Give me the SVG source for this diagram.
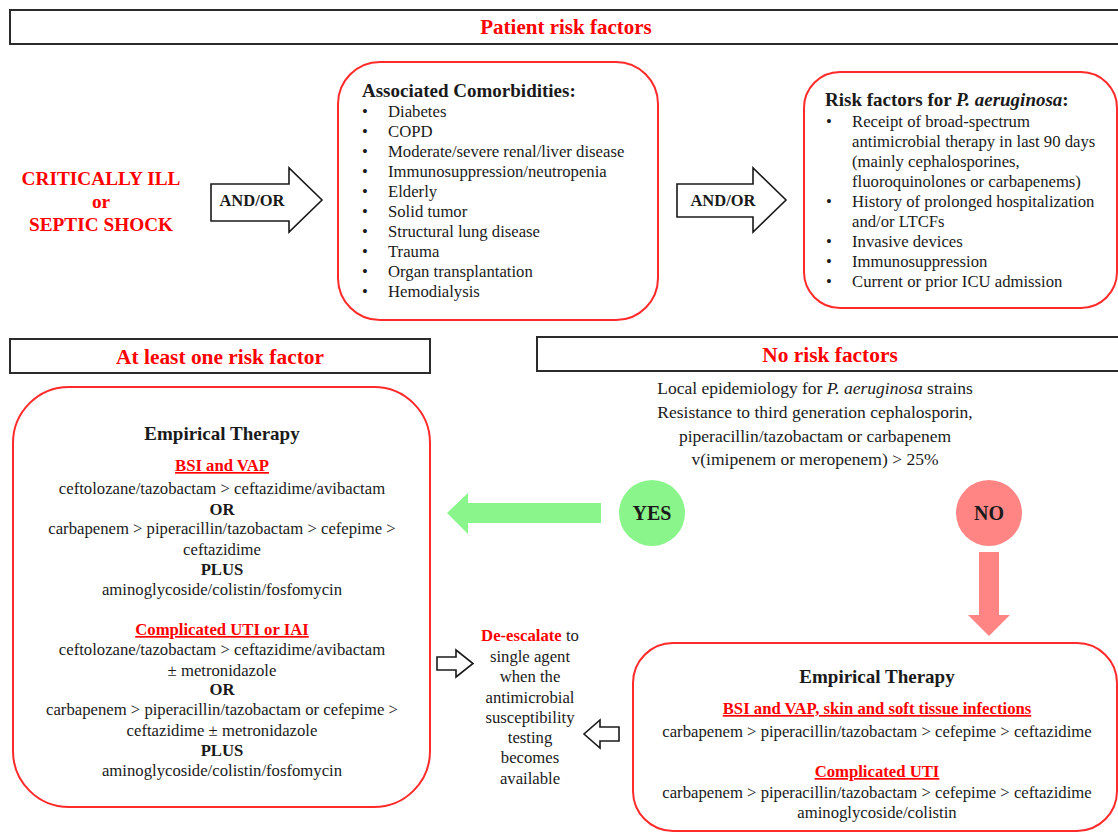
<svg xmlns="http://www.w3.org/2000/svg" width="1118" height="834" viewBox="0 0 1118 834">
<style>
text{font-family:"Liberation Serif","Times New Roman",serif;fill:#1a1a1a}
.t{font-size:16.7px}
.c{text-anchor:middle}
.b{font-weight:bold}
.r{fill:#ff0000}
.u{text-decoration:underline}
.h{font-size:19px;font-weight:bold}
.bar{fill:#fff;stroke:#2b2b2b;stroke-width:2}
.box{fill:#fff;stroke:#ff2a2a;stroke-width:2}
.hol{fill:#fff;stroke:#1a1a1a;stroke-width:1.6;stroke-linejoin:miter}
</style>
<rect width="1118" height="834" fill="#fff"/>

<g id="bar-patient">
<rect class="bar" x="10" y="10" width="1120" height="34"/>
<text class="c b r" x="566" y="34" font-size="21">Patient risk factors</text>
</g>

<g id="critically">
<text class="c b r" x="101" y="185" font-size="19.3">CRITICALLY ILL</text>
<text class="c b r" x="101" y="208" font-size="19.3">or</text>
<text class="c b r" x="101" y="231" font-size="19.3">SEPTIC SHOCK</text>
</g>

<g id="comorbidities">
<rect class="box" x="338" y="62" width="320" height="258" rx="42"/>
<text class="h" x="362" y="97">Associated Comorbidities:</text>
<g class="t">
<text x="362" y="117">•</text><text x="388" y="117">Diabetes</text>
<text x="362" y="137">•</text><text x="388" y="137">COPD</text>
<text x="362" y="157">•</text><text x="388" y="157">Moderate/severe renal/liver disease</text>
<text x="362" y="177">•</text><text x="388" y="177">Immunosuppression/neutropenia</text>
<text x="362" y="197">•</text><text x="388" y="197">Elderly</text>
<text x="362" y="217">•</text><text x="388" y="217">Solid tumor</text>
<text x="362" y="237">•</text><text x="388" y="237">Structural lung disease</text>
<text x="362" y="257">•</text><text x="388" y="257">Trauma</text>
<text x="362" y="277">•</text><text x="388" y="277">Organ transplantation</text>
<text x="362" y="297">•</text><text x="388" y="297">Hemodialysis</text>
</g>
</g>

<g id="risk-pa">
<rect class="box" x="804" y="72" width="313" height="236" rx="36"/>
<text class="h" x="825" y="106">Risk factors for <tspan font-style="italic">P. aeruginosa</tspan>:</text>
<g class="t">
<text x="826" y="127">•</text><text x="852" y="127">Receipt of broad-spectrum</text>
<text x="852" y="147">antimicrobial therapy in last 90 days</text>
<text x="852" y="167">(mainly cephalosporines,</text>
<text x="852" y="187">fluoroquinolones or carbapenems)</text>
<text x="826" y="207">•</text><text x="852" y="207">History of prolonged hospitalization</text>
<text x="852" y="227">and/or LTCFs</text>
<text x="826" y="247">•</text><text x="852" y="247">Invasive devices</text>
<text x="826" y="267">•</text><text x="852" y="267">Immunosuppression</text>
<text x="826" y="287">•</text><text x="852" y="287">Current or prior ICU admission</text>
</g>
</g>

<g id="bar-atleast">
<rect class="bar" x="10" y="339" width="420" height="34"/>
<text class="c b r" x="220" y="364" font-size="21.4">At least one risk factor</text>
</g>

<g id="bar-norisk">
<rect class="bar" x="537" y="337" width="600" height="34"/>
<text class="c b r" x="830" y="362" font-size="21.4">No risk factors</text>
</g>

<g id="local-epi">
<text class="c" x="815" y="394" font-size="17.5">Local epidemiology for <tspan font-style="italic">P. aeruginosa</tspan> strains</text>
<text class="c" x="815" y="418" font-size="17.5">Resistance to third generation cephalosporin,</text>
<text class="c" x="815" y="442" font-size="17.5">piperacillin/tazobactam or carbapenem</text>
<text class="c" x="815" y="465" font-size="17.5">v(imipenem or meropenem) &gt; 25%</text>
</g>

<g id="yes">
<circle cx="652" cy="513" r="33" fill="#8af58a"/>
<text class="c b" x="652" y="520" font-size="20">YES</text>
</g>

<g id="no">
<circle cx="989" cy="513" r="33" fill="#ff8585"/>
<text class="c b" x="989" y="520" font-size="20">NO</text>
</g>

<g id="therapy-left">
<rect class="box" x="13" y="387" width="417" height="420" rx="56"/>
<g class="t">
<text class="c h" x="222" y="440">Empirical Therapy</text>
<text class="c b r u" x="222" y="471">BSI and VAP</text>
<text class="c" x="222" y="494">ceftolozane/tazobactam &gt; ceftazidime/avibactam</text>
<text class="c b" x="222" y="515">OR</text>
<text class="c" x="222" y="534">carbapenem &gt; piperacillin/tazobactam &gt; cefepime &gt;</text>
<text class="c" x="222" y="555">ceftazidime</text>
<text class="c b" x="222" y="575">PLUS</text>
<text class="c" x="222" y="595">aminoglycoside/colistin/fosfomycin</text>
<text class="c b r u" x="222" y="635">Complicated UTI or IAI</text>
<text class="c" x="222" y="655">ceftolozane/tazobactam &gt; ceftazidime/avibactam</text>
<text class="c" x="222" y="676">± metronidazole</text>
<text class="c b" x="222" y="695">OR</text>
<text class="c" x="222" y="715">carbapenem &gt; piperacillin/tazobactam or cefepime &gt;</text>
<text class="c" x="222" y="736">ceftazidime ± metronidazole</text>
<text class="c b" x="222" y="756">PLUS</text>
<text class="c" x="222" y="776">aminoglycoside/colistin/fosfomycin</text>
</g>
</g>

<g id="deescalate" class="t">
<text class="c" x="530" y="641"><tspan class="b r">De-escalate</tspan> to</text>
<text class="c" x="530" y="662">single agent</text>
<text class="c" x="530" y="682">when the</text>
<text class="c" x="530" y="703">antimicrobial</text>
<text class="c" x="530" y="723">susceptibility</text>
<text class="c" x="530" y="743">testing</text>
<text class="c" x="530" y="763">becomes</text>
<text class="c" x="530" y="784">available</text>
</g>

<g id="therapy-right">
<rect class="box" x="633" y="643" width="484" height="188" rx="40"/>
<g class="t">
<text class="c h" x="877" y="683">Empirical Therapy</text>
<text class="c b r u" x="877" y="714">BSI and VAP, skin and soft tissue infections</text>
<text class="c" x="877" y="737">carbapenem &gt; piperacillin/tazobactam &gt; cefepime &gt; ceftazidime</text>
<text class="c b r u" x="877" y="777">Complicated UTI</text>
<text class="c" x="877" y="798">carbapenem &gt; piperacillin/tazobactam &gt; cefepime &gt; ceftazidime</text>
<text class="c" x="877" y="818">aminoglycoside/colistin</text>
</g>
</g>

<g id="connectors">
<g id="andor1">
<path class="hol" d="M211,184 H289 V168 L322,200 L289,232 V221 H211 Z"/>
<text class="c b" x="252" y="206" font-size="16.5">AND/OR</text>
</g>
<g id="andor2">
<path class="hol" d="M677,184 H753 V168 L786,200 L753,232 V217 H677 Z"/>
<text class="c b" x="723" y="206" font-size="16.5">AND/OR</text>
</g>
<path id="arrow-yes" d="M601,503 H468 V493 L447,513 L468,534 V523 H601 Z" fill="#8af58a"/>
<path id="arrow-no" d="M979,552 H999 V615 H1010 L989,636 L968,615 H979 Z" fill="#ff8585"/>
<path id="arrow-deesc-left" class="hol" d="M437,657 H456 V650 L473,663.5 L456,677 V670 H437 Z"/>
<path id="arrow-deesc-right" class="hol" d="M619,727 H600 V720 L584,734 L600,748 V741 H619 Z"/>
</g>
</svg>
